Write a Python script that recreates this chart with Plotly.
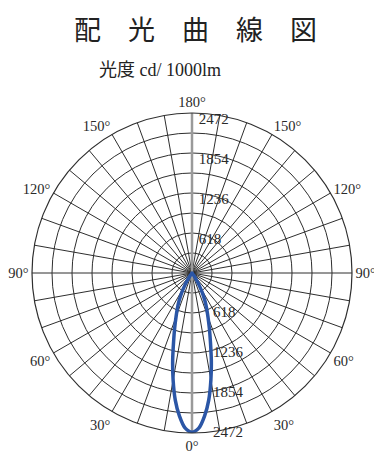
import plotly.graph_objects as go

# ---- data ----
radial_ticks = [618, 1236, 1854, 2472]
radial_grid = [309, 618, 927, 1236, 1545, 1854, 2163, 2472]
angle_grid = list(range(0, 360, 10))
angle_label_vals = [0, 30, 60, 90, 120, 150, 180, 210, 240, 270, 300, 330]
angle_label_text = ["0°", "30°", "60°", "90°", "120°", "150°", "180°",
                    "150°", "120°", "90°", "60°", "30°"]
# luminous intensity (cd/1000lm) vs angle from nadir, one half of symmetric beam
beam_angles = [0, 2.5, 5, 7.5, 10, 12.5, 15, 17.5, 20, 22.5, 25, 27.5, 30, 32.5, 35, 40, 45]
beam_cd = [2460, 2400, 2220, 1980, 1680, 1380, 1100, 890, 720, 590, 470, 350, 230, 140, 60, 10, 0]

title_text = "配　光　曲　線　図"
subtitle_text = "光度 cd/ 1000lm"

SERIF = "Liberation Serif, DejaVu Serif, Noto Sans CJK JP, serif"
TXT = "#2a2a2a"

# closed curve: mirror the half distribution
theta = [-a for a in beam_angles[::-1]] + beam_angles[1:]
r = beam_cd[::-1] + beam_cd[1:]

fig = go.Figure()

# vertical 0-180 axis line (gray)
fig.add_trace(go.Scatterpolar(
    r=[radial_ticks[-1], 0, radial_ticks[-1]], theta=[180, 180, 0],
    mode="lines", line=dict(color="#9a9a9a", width=2.5),
    hoverinfo="skip", showlegend=False))

# beam curve
fig.add_trace(go.Scatterpolar(
    r=r, theta=theta, mode="lines", line=dict(color="#2b56a6", width=3.5, shape="spline", smoothing=0.8),
    showlegend=False))

# radial value labels, upper
fig.add_trace(go.Scatterpolar(
    r=radial_ticks, theta=[180] * len(radial_ticks), mode="text",
    text=["\u2009 " + str(v) for v in radial_ticks], textposition="bottom right",
    textfont=dict(family=SERIF, size=15, color=TXT), showlegend=False, hoverinfo="skip"))

# radial value labels, lower
fig.add_trace(go.Scatterpolar(
    r=radial_ticks, theta=[0] * len(radial_ticks), mode="markers+text",
    marker=dict(size=32, opacity=0),
    text=[str(v) for v in radial_ticks], textposition="middle right",
    textfont=dict(family=SERIF, size=15, color=TXT), showlegend=False, hoverinfo="skip"))

# page body has an 8px margin, so the plot div starts at (8, 8)
W, H = 374, 451
cx, cy, R = 184, 265, 160

fig.update_layout(
    width=W, height=H,
    margin=dict(l=0, r=0, t=0, b=0),
    paper_bgcolor="white",
    showlegend=False,
    polar=dict(
        domain=dict(x=[(cx - R) / W, (cx + R) / W], y=[1 - (cy + R) / H, 1 - (cy - R) / H]),
        bgcolor="white",
        radialaxis=dict(
            range=[0, radial_ticks[-1]], tickmode="array", tickvals=radial_grid,
            showticklabels=False, ticks="", showline=False,
            gridcolor="#2e2e2e", gridwidth=1),
        angularaxis=dict(
            rotation=-90, direction="counterclockwise",
            tickmode="array", tickvals=angle_grid,
            ticktext=[angle_label_text[angle_label_vals.index(a)] if a in angle_label_vals else "" for a in angle_grid],
            ticks="", showline=True, linecolor="#2e2e2e", linewidth=1.2,
            gridcolor="#2e2e2e", gridwidth=1,
            tickfont=dict(family=SERIF, size=14.5, color=TXT)),
    ),
    annotations=[
        dict(text=title_text, x=187 / W, y=1 - 21 / H, xref="paper", yref="paper",
             showarrow=False, xanchor="center", yanchor="middle",
             font=dict(family="Noto Sans CJK JP", size=27, color="#222222")),
        dict(text=subtitle_text, x=89 / W, y=1 - 62 / H, xref="paper", yref="paper",
             showarrow=False, xanchor="left", yanchor="middle",
             font=dict(family=SERIF, size=18, color="#222222")),
    ],
)

fig.write_html("out.html")
